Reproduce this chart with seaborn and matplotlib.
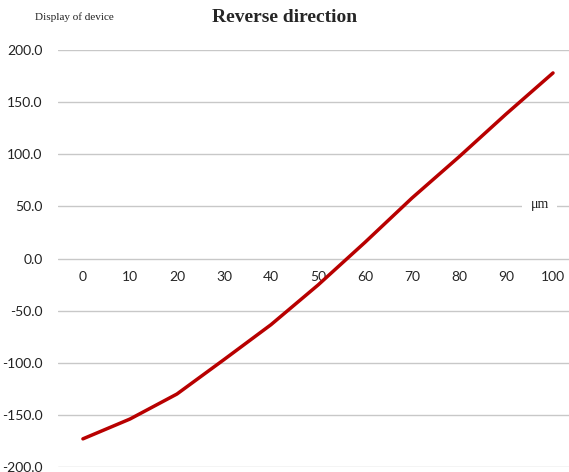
import seaborn as sns
import matplotlib.pyplot as plt
import pandas as pd
import numpy as np

# reading of the device vs. position (reverse direction)
positions = ['0', '10', '20', '30', '40', '50', '60', '70', '80', '90', '100']
display = [-173.0, -154.0, -130.0, -97.0, -63.5, -25.5, 15.5, 58.0, 97.5, 138.5, 178.0]
y_ticks = [-200, -150, -100, -50, 0, 50, 100, 150, 200]

df = pd.DataFrame({'idx': np.arange(len(positions)), 'display': display})

sns.set_style('white')
plt.rcParams['font.family'] = ['Lato', 'DejaVu Sans']

fig = plt.figure(figsize=(5.69, 4.72), dpi=100)
ax = fig.add_axes([58 / 569, 1 - 467 / 472, 1 - 58 / 569, (467 - 50) / 472])

sns.lineplot(data=df, x='idx', y='display', color='#B80000', linewidth=2.5, ax=ax)

ax.set_ylim(-200, 200)
ax.set_xlim(-0.53, 10.34)
ax.set_yticks(y_ticks)
ax.set_yticklabels([f'{v:.1f}' for v in y_ticks], fontsize=10, color='#222222')
ax.set_xticks(df['idx'])
ax.set_xticklabels(positions, fontsize=10, color='#222222')
ax.set_xlabel('')
ax.set_ylabel('')

# category labels sit under the zero line
ax.spines['bottom'].set_position(('data', 0))
for s in ['top', 'right', 'left', 'bottom']:
    ax.spines[s].set_visible(False)
ax.tick_params(axis='x', length=0, pad=9)
ax.tick_params(axis='y', length=0, pad=11)

ax.grid(axis='y', color='#c8c8c8', linewidth=1.0)
ax.set_axisbelow(True)

ax.text(0.925, 52, 'μm', transform=ax.get_yaxis_transform(), fontsize=10,
        family='Liberation Serif', va='center', ha='left', color='#222222',
        bbox=dict(facecolor='white', edgecolor='none', pad=6))

fig.text(0.5, 1 - 18 / 472, 'Reverse direction', ha='center', va='center',
         fontsize=14, fontweight='bold', family='Liberation Serif')
fig.text(35 / 569, 1 - 17 / 472, 'Display of device', ha='left', va='center',
         fontsize=8, family='Liberation Serif', color='#222222')

fig.savefig('out.png', dpi=100)
